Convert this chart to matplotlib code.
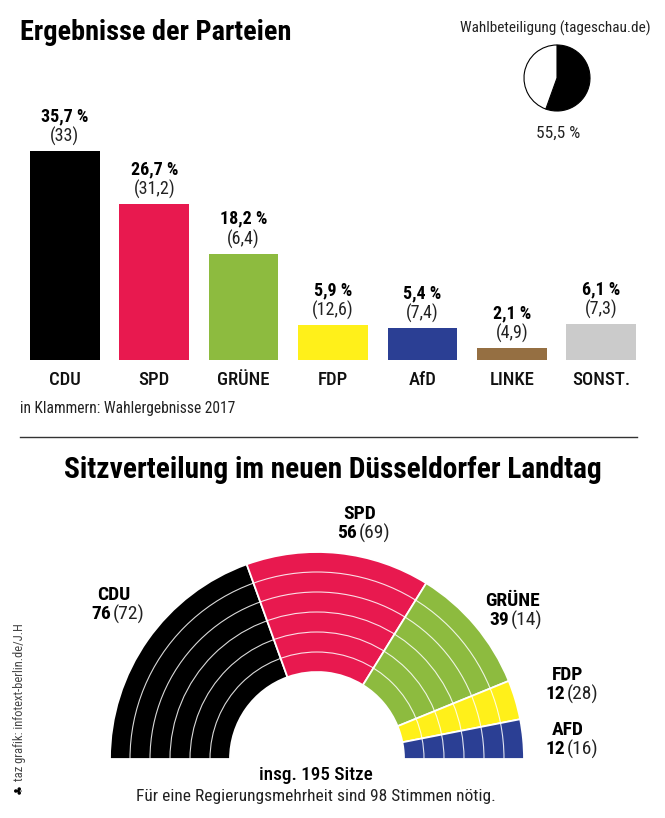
import matplotlib
matplotlib.use('Agg')
import matplotlib.pyplot as plt
from matplotlib.patches import Wedge, Arc

plt.rcParams['font.family'] = ['Roboto Condensed', 'DejaVu Sans']

W, H = 665, 818

# ---- data: Landtagswahl NRW 2022
parties = ['CDU', 'SPD', 'GRÜNE', 'FDP', 'AfD', 'LINKE', 'SONST.']
votes = [35.7, 26.7, 18.2, 5.9, 5.4, 2.1, 6.1]
votes_2017 = [33, 31.2, 6.4, 12.6, 7.4, 4.9, 7.3]
bar_colors = ['#000000', '#e8194f', '#8dbb3f', '#fff01a', '#2b3f94', '#956f42', '#cbcbcb']

turnout = 55.5

seat_parties = ['CDU', 'SPD', 'GRÜNE', 'FDP', 'AFD']
seats = [76, 56, 39, 12, 12]
seats_2017 = [72, 69, 14, 28, 16]
seat_colors = ['#000000', '#e8194f', '#8dbb3f', '#fff01a', '#2b3f94']
majority = 98


def de(v):
    # german decimal comma
    s = ('%.1f' % v).replace('.', ',')
    return s[:-2] if s.endswith(',0') else s


def rect(x0, y0, x1, y1):
    # pixel box (y from top) -> figure coords
    return [x0 / W, 1 - y1 / H, (x1 - x0) / W, (y1 - y0) / H]


fig = plt.figure(figsize=(W / 100, H / 100), dpi=100)

# overlay for free text, pixel coords, y downwards
ov = fig.add_axes([0, 0, 1, 1])
ov.set_xlim(0, W)
ov.set_ylim(H, 0)
ov.axis('off')

ov.text(20, 32, 'Ergebnisse der Parteien', fontsize=20.3, fontweight='bold', va='center')
ov.text(20, 408, 'in Klammern: Wahlergebnisse 2017', fontsize=11.2, va='center', color='#222222')
ov.plot([20, 637], [437, 437], color='#333333', lw=1)
ov.text(333, 470, 'Sitzverteilung im neuen Düsseldorfer Landtag', fontsize=21.2,
        fontweight='bold', ha='center', va='center')
ov.text(555, 28, 'Wahlbeteiligung (tageschau.de)', fontsize=11, ha='center', va='center', color='#222222')
ov.text(558, 133, de(turnout) + ' %', fontsize=12.5, ha='center', va='center', color='#222222')

# ---- bar chart
bx = fig.add_axes(rect(20.25, 126, 645.75, 360))
xs = range(len(parties))
bx.bar(xs, votes, width=0.78, color=bar_colors)
bx.set_xlim(-0.5, len(parties) - 0.5)
bx.set_ylim(0, 40)
bx.axis('off')
for i, v in enumerate(votes):
    bx.annotate(de(v) + ' %', (i, v), xytext=(0, 25), textcoords='offset points',
                ha='center', va='center', fontsize=13, fontweight='bold')
    bx.annotate('(' + de(votes_2017[i]) + ')', (i, v), xytext=(0, 10.5), textcoords='offset points',
                ha='center', va='center', fontsize=13, color='#222222')
    bx.annotate(parties[i], (i, 0), xytext=(0, -14.5), textcoords='offset points',
                ha='center', va='center', fontsize=13.5, fontweight='medium', color='#111111')

# ---- turnout pie
pa = fig.add_axes(rect(523, 44, 591, 112))
pa.pie([turnout, 100 - turnout], colors=['black', 'white'], startangle=90, counterclock=False,
       wedgeprops=dict(edgecolor='black', linewidth=0.8))
pa.set_xlim(-1.03, 1.03)
pa.set_ylim(-1.03, 1.03)
pa.set_aspect('equal')

# ---- hemicycle, 1 data unit = 1 px, centre at (317, 759)
cx, cy = 317, 759
ha_ = fig.add_axes(rect(100, 540, 540, 770))
ha_.set_xlim(100 - cx, 540 - cx)
ha_.set_ylim(cy - 770, cy - 540)
ha_.axis('off')
r_out, r_in = 207, 87
total = sum(seats)
ang = 180.0
for s, c in zip(seats, seat_colors):
    span = 180.0 * s / total
    ha_.add_patch(Wedge((0, 0), r_out, ang - span, ang, width=r_out - r_in,
                        facecolor=c, edgecolor='white', linewidth=1.3))
    ang -= span
ring = (r_out - r_in) / 6
for k in range(1, 6):
    d = 2 * (r_in + k * ring)
    ha_.add_patch(Arc((0, 0), d, d, theta1=0, theta2=180, color='white', lw=0.8, alpha=0.85))

# seat labels
seat_pos = [(114, 595), (360, 514), (512, 601), (568, 675), (568, 730)]
for (x, y), p, s, s17 in zip(seat_pos, seat_parties, seats, seats_2017):
    ov.text(x, y, p, fontsize=14, fontweight='bold', ha='center', va='center')
    ov.text(x - 3, y + 19, str(s), fontsize=14, fontweight='bold', ha='right', va='center')
    ov.text(x - 1, y + 19, '(%d)' % s17, fontsize=14, ha='left', va='center', color='#222222')

ov.text(316, 775, 'insg. %d Sitze' % total, fontsize=13.8, fontweight='medium', ha='center', va='center')
ov.text(316, 796, 'Für eine Regierungsmehrheit sind %d Stimmen nötig.' % majority,
        fontsize=12.5, ha='center', va='center', color='#222222')

# credit, vertical
ov.text(20, 789, '♣', fontsize=8, rotation=90, ha='center', va='center', family=['DejaVu Sans'])
ov.text(20, 781, 'taz grafik: infotext-berlin.de/J.H', fontsize=9, rotation=90,
        ha='center', va='bottom', color='#444444')

fig.savefig('out.png', dpi=100)
